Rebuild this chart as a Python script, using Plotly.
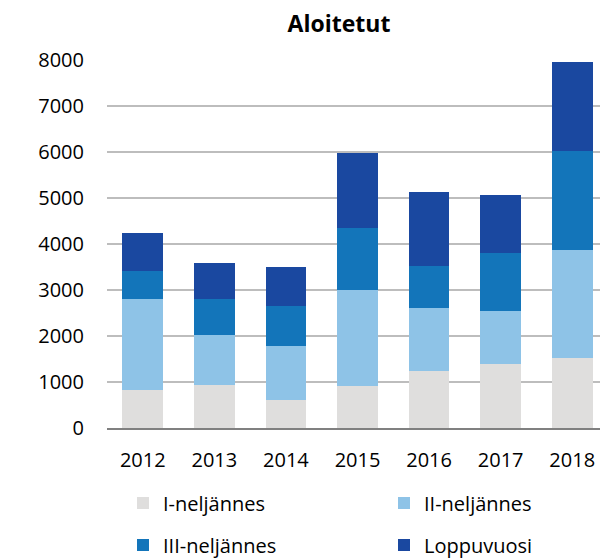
import plotly.graph_objects as go

years = ["2012", "2013", "2014", "2015", "2016", "2017", "2018"]
q1 = [834, 936, 616, 907, 1234, 1386, 1532]
q2 = [1961, 1090, 1177, 2099, 1365, 1148, 2338]
q3 = [610, 769, 864, 1351, 930, 1270, 2150]
rest = [845, 785, 835, 1612, 1597, 1264, 1932]
names = ["I-neljännes", "II-neljännes", "III-neljännes", "Loppuvuosi"]
colors = ["#dfdedd", "#8ec3e7", "#1375ba", "#1a48a0"]
legend_ids = ["legend2", "legend3", "legend4", "legend5"]

W, H = 600, 551  # page has an 8px body margin inside the 608x559 window
# legend anchor positions in container fractions (col, row)
leg_pos = [(115 / W, 1 - 495 / H), (376 / W, 1 - 495 / H),
           (115 / W, 1 - 537 / H), (376 / W, 1 - 537 / H)]

font = "Open Sans, sans-serif"
fig = go.Figure()
for vals, name, col, lid in zip([q1, q2, q3, rest], names, colors, legend_ids):
    fig.add_trace(go.Bar(x=years, y=vals, name=name, legend=lid,
                         marker=dict(color=col, line=dict(width=0))))

layout_legends = {}
for lid, (lx, ly) in zip(legend_ids, leg_pos):
    layout_legends[lid] = dict(xref="container", yref="container", x=lx, y=ly,
                               xanchor="left", yanchor="middle",
                               font=dict(size=20, family=font, color="#000"),
                               itemwidth=30, bgcolor="rgba(0,0,0,0)")

fig.update_layout(
    barmode="stack",
    bargap=0.43,
    width=W, height=H,
    margin=dict(l=99, r=0, t=52, b=131, autoexpand=False),
    paper_bgcolor="white", plot_bgcolor="white",
    font=dict(family=font, size=20, color="#000000"),
    showlegend=True,
    title=dict(text="<b>Aloitetut</b>", x=331 / W, xanchor="center", xref="container",
               y=1 - 16 / H, yanchor="middle", yref="container",
               font=dict(size=23, family=font, color="#000")),
    xaxis=dict(showgrid=False, showline=True, linecolor="#808080", linewidth=2,
               ticks="", tickfont=dict(size=20), ticklabelstandoff=13),
    yaxis=dict(range=[0, 8000], dtick=1000, showgrid=True, gridcolor="#bdbdbd", gridwidth=1.5,
               zeroline=False, ticks="", tickfont=dict(size=20), ticklabelstandoff=22),
    **layout_legends,
)
fig.write_html("out.html")
